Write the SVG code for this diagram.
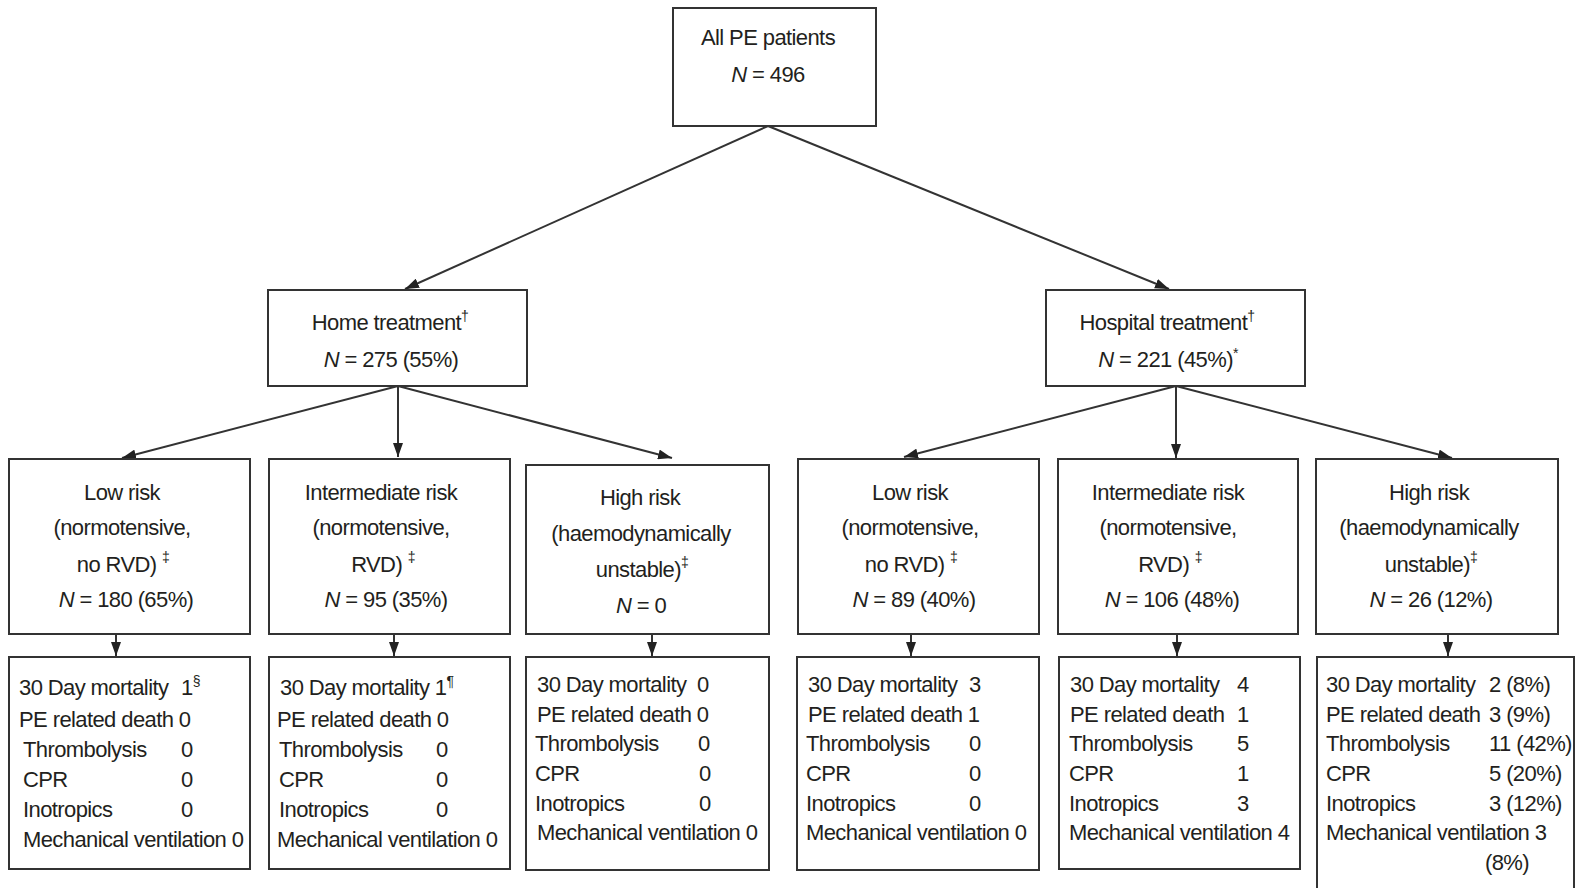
<svg xmlns="http://www.w3.org/2000/svg" width="1578" height="888" viewBox="0 0 1578 888">
<defs>
<style>
text{font-family:"Liberation Sans",Arial,sans-serif;font-size:22px;fill:#231f20;letter-spacing:-0.6px}
.c{text-anchor:middle}
.box{fill:#fff;stroke:#333;stroke-width:2}
.ln{stroke:#333;stroke-width:2;fill:none;marker-end:url(#ah)}
.i{font-style:italic}
.sup{font-size:14px}
</style>
<marker id="ah" viewBox="0 0 14 10" refX="14" refY="5" markerWidth="14" markerHeight="10" markerUnits="userSpaceOnUse" orient="auto">
<path d="M0,0 L14,5 L0,10 z" fill="#222"/>
</marker>
</defs>
<rect width="1578" height="888" fill="#fff"/>

<g id="connectors">
<line class="ln" x1="768" y1="126" x2="405" y2="289"/>
<line class="ln" x1="768" y1="126" x2="1169" y2="289"/>
<line class="ln" x1="398" y1="386" x2="122" y2="458"/>
<line class="ln" x1="398" y1="386" x2="398" y2="457"/>
<line class="ln" x1="398" y1="386" x2="672" y2="458"/>
<line class="ln" x1="1176" y1="386" x2="904" y2="457"/>
<line class="ln" x1="1176" y1="386" x2="1176" y2="458"/>
<line class="ln" x1="1176" y1="386" x2="1452" y2="458"/>
<line class="ln" x1="116" y1="634" x2="116" y2="656"/>
<line class="ln" x1="394" y1="634" x2="394" y2="656"/>
<line class="ln" x1="652" y1="634" x2="652" y2="656"/>
<line class="ln" x1="911" y1="634" x2="911" y2="656"/>
<line class="ln" x1="1177" y1="634" x2="1177" y2="656"/>
<line class="ln" x1="1448" y1="634" x2="1448" y2="656"/>
</g>

<g id="all">
<rect class="box" x="673" y="8" width="203" height="118"/>
<text class="c" x="768" y="45">All PE patients</text>
<text class="c" x="768" y="82"><tspan class="i">N</tspan> = 496</text>
</g>

<g id="home">
<rect class="box" x="268" y="290" width="259" height="96"/>
<text class="c" x="390" y="330">Home treatment<tspan class="sup" dy="-9">†</tspan></text>
<text class="c" x="391" y="367"><tspan class="i">N</tspan> = 275 (55%)</text>
</g>

<g id="hospital">
<rect class="box" x="1046" y="290" width="259" height="96"/>
<text class="c" x="1167" y="330">Hospital treatment<tspan class="sup" dy="-9">†</tspan></text>
<text class="c" x="1168" y="367"><tspan class="i">N</tspan> = 221 (45%)<tspan class="sup" dy="-9">*</tspan></text>
</g>

<g id="home-low">
<rect class="box" x="9" y="459" width="241" height="175"/>
<text class="c" x="122" y="500">Low risk</text>
<text class="c" x="122" y="535">(normotensive,</text>
<text class="c" x="123" y="572">no RVD) <tspan class="sup" dy="-10">‡</tspan></text>
<text class="c" x="126" y="607"><tspan class="i">N</tspan> = 180 (65%)</text>
</g>

<g id="home-int">
<rect class="box" x="269" y="459" width="241" height="175"/>
<text class="c" x="381" y="500">Intermediate risk</text>
<text class="c" x="381" y="535">(normotensive,</text>
<text class="c" x="383" y="572">RVD) <tspan class="sup" dy="-10">‡</tspan></text>
<text class="c" x="386" y="607"><tspan class="i">N</tspan> = 95 (35%)</text>
</g>

<g id="home-high">
<rect class="box" x="526" y="465" width="243" height="169"/>
<text class="c" x="640" y="505">High risk</text>
<text class="c" x="641" y="541">(haemodynamically</text>
<text class="c" x="642" y="577">unstable)<tspan class="sup" dy="-10">‡</tspan></text>
<text class="c" x="641" y="613"><tspan class="i">N</tspan> = 0</text>
</g>

<g id="hosp-low">
<rect class="box" x="798" y="459" width="241" height="175"/>
<text class="c" x="910" y="500">Low risk</text>
<text class="c" x="910" y="535">(normotensive,</text>
<text class="c" x="911" y="572">no RVD) <tspan class="sup" dy="-10">‡</tspan></text>
<text class="c" x="914" y="607"><tspan class="i">N</tspan> = 89 (40%)</text>
</g>

<g id="hosp-int">
<rect class="box" x="1058" y="459" width="240" height="175"/>
<text class="c" x="1168" y="500">Intermediate risk</text>
<text class="c" x="1168" y="535">(normotensive,</text>
<text class="c" x="1170" y="572">RVD) <tspan class="sup" dy="-10">‡</tspan></text>
<text class="c" x="1172" y="607"><tspan class="i">N</tspan> = 106 (48%)</text>
</g>

<g id="hosp-high">
<rect class="box" x="1316" y="459" width="242" height="175"/>
<text class="c" x="1429" y="500">High risk</text>
<text class="c" x="1429" y="535">(haemodynamically</text>
<text class="c" x="1431" y="572">unstable)<tspan class="sup" dy="-10">‡</tspan></text>
<text class="c" x="1431" y="607"><tspan class="i">N</tspan> = 26 (12%)</text>
</g>

<g id="home-low-out">
<rect class="box" x="9" y="657" width="241" height="212"/>
<text x="19" y="695">30 Day mortality</text><text x="181" y="695">1<tspan class="sup" dy="-9">§</tspan></text>
<text x="19" y="727">PE related death 0</text>
<text x="23" y="757">Thrombolysis</text><text x="181" y="757">0</text>
<text x="23" y="787">CPR</text><text x="181" y="787">0</text>
<text x="23" y="817">Inotropics</text><text x="181" y="817">0</text>
<text x="23" y="847">Mechanical ventilation 0</text>
</g>

<g id="home-int-out">
<rect class="box" x="269" y="657" width="241" height="212"/>
<text x="280" y="695">30 Day mortality 1<tspan class="sup" dy="-9">¶</tspan></text>
<text x="277" y="727">PE related death 0</text>
<text x="279" y="757">Thrombolysis</text><text x="436" y="757">0</text>
<text x="279" y="787">CPR</text><text x="436" y="787">0</text>
<text x="279" y="817">Inotropics</text><text x="436" y="817">0</text>
<text x="277" y="847">Mechanical ventilation 0</text>
</g>

<g id="home-high-out">
<rect class="box" x="526" y="657" width="243" height="213"/>
<text x="537" y="692">30 Day mortality</text><text x="697" y="692">0</text>
<text x="537" y="722">PE related death 0</text>
<text x="535" y="751">Thrombolysis</text><text x="698" y="751">0</text>
<text x="535" y="781">CPR</text><text x="699" y="781">0</text>
<text x="535" y="811">Inotropics</text><text x="699" y="811">0</text>
<text x="537" y="840">Mechanical ventilation 0</text>
</g>

<g id="hosp-low-out">
<rect class="box" x="797" y="657" width="242" height="213"/>
<text x="808" y="692">30 Day mortality</text><text x="969" y="692">3</text>
<text x="808" y="722">PE related death 1</text>
<text x="806" y="751">Thrombolysis</text><text x="969" y="751">0</text>
<text x="806" y="781">CPR</text><text x="969" y="781">0</text>
<text x="806" y="811">Inotropics</text><text x="969" y="811">0</text>
<text x="806" y="840">Mechanical ventilation 0</text>
</g>

<g id="hosp-int-out">
<rect class="box" x="1059" y="657" width="241" height="212"/>
<text x="1070" y="692">30 Day mortality</text><text x="1237" y="692">4</text>
<text x="1070" y="722">PE related death</text><text x="1237" y="722">1</text>
<text x="1069" y="751">Thrombolysis</text><text x="1237" y="751">5</text>
<text x="1069" y="781">CPR</text><text x="1237" y="781">1</text>
<text x="1069" y="811">Inotropics</text><text x="1237" y="811">3</text>
<text x="1069" y="840">Mechanical ventilation 4</text>
</g>

<g id="hosp-high-out">
<rect class="box" x="1317" y="657" width="257" height="245"/>
<text x="1326" y="692">30 Day mortality</text><text x="1489" y="692">2 (8%)</text>
<text x="1326" y="722">PE related death</text><text x="1489" y="722">3 (9%)</text>
<text x="1326" y="751">Thrombolysis</text><text x="1489" y="751">11 (42%)</text>
<text x="1326" y="781">CPR</text><text x="1489" y="781">5 (20%)</text>
<text x="1326" y="811">Inotropics</text><text x="1489" y="811">3 (12%)</text>
<text x="1326" y="840">Mechanical ventilation 3</text>
<text x="1485" y="870">(8%)</text>
</g>
</svg>
